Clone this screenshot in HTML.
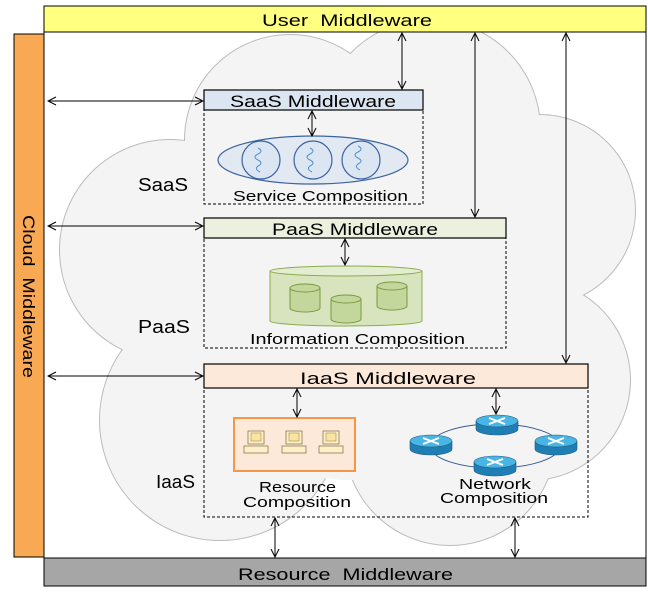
<!DOCTYPE html>
<html><head><style>body{margin:0;background:#fff}svg{display:block;font-family:"Liberation Sans",sans-serif}</style></head>
<body>
<svg width="648" height="598" viewBox="0 0 648 598" xmlns="http://www.w3.org/2000/svg">
<defs>
<marker id="a" markerWidth="10" markerHeight="10" refX="9" refY="5" orient="auto-start-reverse" markerUnits="userSpaceOnUse"><path d="M1,1 L9,5 L1,9" fill="none" stroke="#000" stroke-width="1"/></marker>
<g id="pc"><rect x="0" y="0" width="16" height="13" fill="#fdf0c8" stroke="#8a7a50" stroke-width="0.8"/><rect x="3" y="2" width="10" height="8" fill="#fbe3a0" stroke="#8a7a50" stroke-width="0.5"/><rect x="-4" y="15" width="24" height="7" fill="#fdf0c8" stroke="#8a7a50" stroke-width="0.8"/></g>
<g id="rt"><path d="M-21,0 v8 a21,6 0 0 0 42,0 v-8" fill="#1f7fb5" stroke="#1a5a80" stroke-width="0.6"/><ellipse cx="0" cy="0" rx="21" ry="6" fill="#49b5e5" stroke="#1a5a80" stroke-width="0.6"/><path d="M-8,-3 L8,3 M-8,3 L8,-3" stroke="#fff" stroke-width="2"/></g>
<g id="cl"><circle cx="290" cy="140" r="105"/><circle cx="430" cy="130" r="110"/><circle cx="540" cy="210" r="95"/>
<circle cx="170" cy="250" r="110"/><circle cx="530" cy="380" r="100"/><circle cx="220" cy="420" r="120"/>
<circle cx="450" cy="440" r="105"/></g>
</defs>
<rect x="44" y="32" width="602" height="526" fill="#fff" stroke="#000"/>
<use href="#cl" fill="#f4f4f4" stroke="#bbb" stroke-width="2"/>
<use href="#cl" fill="#f4f4f4"/>
<circle cx="350" cy="300" r="180" fill="#f4f4f4"/>
<rect x="44" y="6" width="602" height="26" fill="#ffff80" stroke="#000"/>
<text x="262" y="26" font-size="17" textLength="170" lengthAdjust="spacingAndGlyphs" xml:space="preserve">User  Middleware</text>
<rect x="14" y="34" width="30" height="523" fill="#f9a854" stroke="#000"/>
<text transform="translate(23,215) rotate(90)" font-size="17" textLength="163" lengthAdjust="spacingAndGlyphs" xml:space="preserve">Cloud  Middleware</text>
<rect x="44" y="558" width="602" height="28" fill="#a6a6a6" stroke="#000"/>
<text x="238" y="580" font-size="17" textLength="215" lengthAdjust="spacingAndGlyphs" xml:space="preserve">Resource  Middleware</text>
<g font-size="18"><text x="138" y="191" textLength="50" lengthAdjust="spacingAndGlyphs">SaaS</text><text x="138" y="333" textLength="52" lengthAdjust="spacingAndGlyphs">PaaS</text><text x="156" y="488" textLength="39" lengthAdjust="spacingAndGlyphs">IaaS</text></g>
<g fill="none" stroke="#000" stroke-dasharray="3,2"><rect x="204" y="90" width="219" height="114"/><rect x="204" y="218" width="302" height="130"/><rect x="204" y="364" width="384" height="153"/></g>
<rect x="204" y="90" width="219" height="20" fill="#dce6f2" stroke="#000" stroke-width="1.2"/>
<text x="230" y="107" font-size="17" textLength="166" lengthAdjust="spacingAndGlyphs">SaaS Middleware</text>
<rect x="204" y="218" width="302" height="20" fill="#ebf1de" stroke="#000" stroke-width="1.2"/>
<text x="272" y="235" font-size="17" textLength="166" lengthAdjust="spacingAndGlyphs">PaaS Middleware</text>
<rect x="204" y="364" width="384" height="24" fill="#fde9d9" stroke="#000" stroke-width="1.2"/>
<text x="300" y="384" font-size="17" textLength="176" lengthAdjust="spacingAndGlyphs">IaaS Middleware</text>
<ellipse cx="313" cy="160" rx="95" ry="24" fill="#e2e9f3" stroke="#3a64a0" stroke-width="1.2"/>
<g fill="#dce6f2" stroke="#3a64a0" stroke-width="1.2"><circle cx="261" cy="160" r="19"/><circle cx="313" cy="160" r="19"/><circle cx="361" cy="160" r="19"/></g>
<g fill="none" stroke="#4a90d0" stroke-width="1"><path d="M258,148 q6,3 0,6 q-6,3 0,6 q6,3 0,6 q-4,3 2,6"/><path d="M310,148 q6,3 0,6 q-6,3 0,6 q6,3 0,6 q-4,3 2,6"/><path d="M358,146 q6,3 0,6 q-6,3 0,6 q6,3 0,6 q-4,3 2,6"/></g>
<text x="233" y="201" font-size="15" textLength="175" lengthAdjust="spacingAndGlyphs">Service Composition</text>
<path d="M270,271 v50 a76,5 0 0 0 152,0 v-50" fill="#d7e4bd" stroke="#8aab50"/>
<ellipse cx="346" cy="271" rx="76" ry="5" fill="#e4edd2" stroke="#8aab50"/>
<g fill="#c3d69b" stroke="#7a9a40">
<path d="M290,288 v20 a15,4 0 0 0 30,0 v-20"/><ellipse cx="305" cy="288" rx="15" ry="4"/>
<path d="M331,299 v20 a15,4 0 0 0 30,0 v-20"/><ellipse cx="346" cy="299" rx="15" ry="4"/>
<path d="M377,286 v20 a15,4 0 0 0 30,0 v-20"/><ellipse cx="392" cy="286" rx="15" ry="4"/>
</g>
<text x="250" y="344" font-size="15" textLength="215" lengthAdjust="spacingAndGlyphs">Information Composition</text>
<rect x="234" y="418" width="121" height="53" fill="#fde9d9" stroke="#f79646" stroke-width="2"/>
<use href="#pc" x="248" y="431"/><use href="#pc" x="286" y="431"/><use href="#pc" x="323" y="431"/>
<text x="259" y="492" font-size="15" textLength="77" lengthAdjust="spacingAndGlyphs">Resource</text>
<text x="243" y="507" font-size="15" textLength="108" lengthAdjust="spacingAndGlyphs">Composition</text>
<ellipse cx="495" cy="446" rx="65" ry="22" fill="none" stroke="#3a5a90" stroke-width="1"/>
<use href="#rt" x="497" y="421"/><use href="#rt" x="431" y="441"/><use href="#rt" x="556" y="441"/><use href="#rt" x="495" y="462"/>
<text x="459" y="489" font-size="15" textLength="72" lengthAdjust="spacingAndGlyphs">Network</text>
<text x="440" y="503" font-size="15" textLength="108" lengthAdjust="spacingAndGlyphs">Composition</text>
<g stroke="#000" stroke-width="1" fill="none" marker-start="url(#a)" marker-end="url(#a)">
<line x1="48" y1="101" x2="203" y2="101"/><line x1="48" y1="226" x2="203" y2="226"/><line x1="48" y1="376" x2="203" y2="376"/>
<line x1="402" y1="33" x2="402" y2="89"/><line x1="475" y1="33" x2="475" y2="217"/><line x1="566" y1="33" x2="566" y2="363"/>
<line x1="275" y1="518" x2="275" y2="557"/><line x1="515" y1="518" x2="515" y2="557"/>
<line x1="312" y1="111" x2="312" y2="136"/><line x1="345" y1="239" x2="345" y2="265"/><line x1="297" y1="389" x2="297" y2="417"/><line x1="496" y1="389" x2="496" y2="414"/>
</g>
</svg>
</body></html>
